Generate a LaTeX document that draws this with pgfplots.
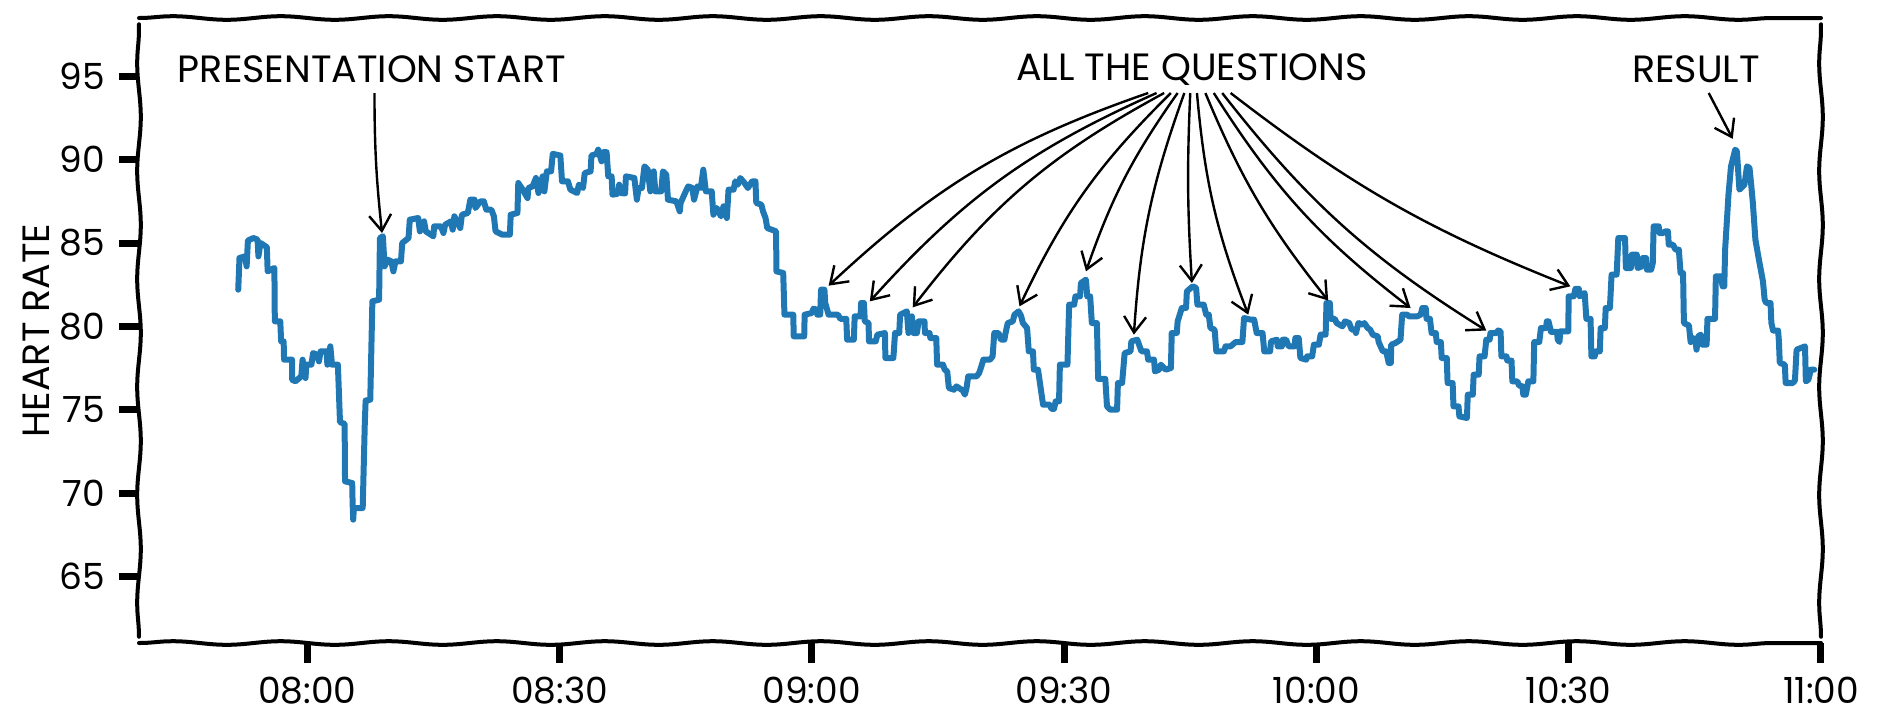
\documentclass[border=0pt]{standalone}
\usepackage{pgfplots}
\pgfplotsset{compat=1.18}
\usepackage{fontspec}
\setmainfont{Poppins}
\usetikzlibrary{arrows.meta,decorations.pathmorphing}
\definecolor{mplblue}{HTML}{1F77B4}
\pgfplotstableread{
x y
471.8 82.2
471.95 84.1
472.6 84.2
472.8 83.6
472.95 85.15
473.6 85.3
474.1 85.2
474.2 84.2
474.45 85.0
475.2 84.75
475.3 83.3
476.1 83.5
476.15 80.3
476.8 80.3
476.9 79.1
477.2 79.1
477.25 78.0
478.2 78.0
478.2 76.8
478.6 76.7
479.3 77.0
479.45 78.0
479.8 76.9
479.9 77.7
480.5 77.7
480.7 78.4
481.15 78.3
481.4 77.9
481.6 78.5
482.3 78.5
482.4 77.7
482.75 78.8
482.95 77.7
483.65 77.7
483.9 74.25
484.45 74.15
484.5 70.7
485.35 70.6
485.4 69.4
485.47 68.4
485.55 69.1
486.6 69.1
486.85 74.2
486.95 75.55
487.5 75.6
487.75 81.5
488.55 81.6
488.65 85.3
489.0 85.4
489.2 83.6
489.55 84.0
490.0 83.9
490.25 83.3
490.5 83.9
491.15 83.9
491.3 85.0
492.05 85.3
492.2 86.4
493.2 86.5
493.4 85.7
493.9 86.3
494.1 85.7
495.0 85.4
495.1 86.0
495.9 86.0
496.2 85.6
496.4 86.1
497.1 86.3
497.3 85.8
497.5 86.6
498.2 85.9
498.4 86.7
499.1 86.8
499.4 87.6
499.9 87.6
500.0 87.1
500.6 87.5
501.0 87.5
501.3 87.0
501.9 87.0
502.2 86.6
502.4 85.7
503.2 85.5
504.1 85.5
504.2 86.7
505.0 86.8
505.1 88.6
505.5 88.3
506.2 87.7
506.3 88.3
506.8 88.4
507.2 88.9
507.5 88.0
508.0 89.0
508.2 88.1
508.5 89.3
509.0 89.3
509.2 90.35
510.1 90.25
510.3 88.7
511.0 88.7
511.3 88.2
512.1 88.0
512.3 88.5
512.8 88.3
513.0 89.2
513.7 89.3
513.8 90.25
514.4 90.35
514.6 90.6
515.0 89.9
515.2 90.45
515.6 90.45
515.8 89.0
516.2 89.0
516.3 87.9
516.9 87.95
517.1 88.5
517.3 88.0
517.8 87.97
517.9 89.0
518.9 88.9
519.2 87.6
519.4 88.3
519.8 88.3
520.1 89.6
520.5 89.4
520.8 88.1
521.2 89.3
521.4 88.1
522.1 88.1
522.3 89.3
522.7 89.1
522.9 87.6
523.9 87.5
524.3 86.9
524.4 87.4
524.9 87.97
525.3 88.4
525.8 88.3
526.0 87.6
526.4 88.4
526.8 88.3
527.1 89.4
527.4 88.1
528.1 88.1
528.3 86.7
528.7 87.1
529.2 86.6
529.5 87.2
529.9 86.5
530.1 88.2
530.7 88.2
530.9 88.7
531.2 88.5
531.5 88.9
532.0 88.6
532.4 88.3
532.9 88.7
533.3 88.7
533.4 87.4
534.0 87.3
534.2 86.9
534.5 86.5
534.7 85.9
535.75 85.7
535.8 83.3
536.6 83.2
536.75 80.7
537.8 80.7
537.85 79.4
539.1 79.4
539.15 80.7
540.0 80.8
540.2 81.06
540.6 81.0
540.65 80.7
541.0 80.7
541.1 82.2
541.5 82.2
541.6 81.4
542.0 80.7
543.1 80.7
543.4 80.45
544.1 80.45
544.2 79.2
545.0 79.2
545.1 80.6
545.8 80.6
545.86 81.4
546.2 81.4
546.3 80.3
546.75 80.2
546.8 79.1
547.6 79.1
547.8 79.5
548.7 79.6
548.75 78.1
549.7 78.1
549.9 79.6
550.4 79.6
550.5 80.7
551.3 80.9
551.5 79.6
551.9 80.6
552.1 79.6
552.5 79.6
552.7 80.3
553.4 80.3
553.45 79.6
554.0 79.6
554.1 79.3
554.8 79.3
554.9 77.7
555.6 77.7
555.8 77.4
556.1 77.3
556.3 76.3
556.9 76.2
557.2 76.4
557.95 76.15
558.2 75.9
558.4 76.3
558.6 77.0
559.6 77.0
559.9 77.2
560.1 77.5
560.4 78.0
561.2 78.0
561.5 78.2
561.7 79.6
562.2 79.6
562.5 79.2
562.9 79.2
563.0 79.5
563.3 80.2
563.9 80.3
564.1 80.7
564.6 80.9
564.9 80.6
565.1 80.2
565.6 79.9
565.8 78.5
566.3 78.5
566.4 77.4
566.9 77.4
567.5 75.3
568.3 75.3
568.5 75.05
568.8 75.05
569.0 75.5
569.4 75.5
569.5 77.7
570.4 77.7
570.6 81.3
571.2 81.3
571.35 81.8
571.9 81.8
572.0 82.6
572.6 82.8
572.75 81.8
573.1 81.8
573.3 80.2
573.9 80.2
574.05 76.85
574.9 76.85
575.1 75.2
575.5 75.0
576.3 75.0
576.4 76.6
576.9 76.6
577.2 78.4
577.9 78.5
578.0 79.1
578.7 79.2
579.2 78.5
579.85 78.5
580.0 78.0
580.7 78.0
580.8 77.3
581.3 77.4
581.5 77.7
582.1 77.4
582.7 77.5
582.8 79.6
583.4 79.6
583.5 80.3
584.0 81.1
584.5 81.1
584.6 82.1
585.3 82.4
585.7 82.3
585.85 81.3
586.6 81.3
586.9 80.7
587.2 80.7
587.4 79.9
587.9 79.8
588.1 78.5
589.0 78.5
589.2 78.8
589.8 78.8
590.4 79.06
591.2 79.06
591.4 80.5
592.2 80.4
592.6 80.4
592.9 79.6
593.6 79.6
593.8 78.5
594.5 78.5
594.6 79.1
595.3 79.2
595.4 78.8
595.9 78.8
596.0 79.2
596.4 79.2
596.7 78.8
597.4 78.8
597.5 79.3
597.9 79.3
598.1 78.1
598.8 78.0
598.9 78.2
599.5 78.2
599.7 78.9
600.3 78.9
600.5 79.5
601.1 79.5
601.2 81.4
601.6 81.4
601.7 80.45
602.2 80.45
602.4 80.2
603.1 80.0
603.4 80.3
603.9 80.2
604.2 79.8
604.6 79.8
604.7 79.6
605.0 80.2
605.5 80.1
605.7 80.2
606.1 79.9
606.4 79.8
606.7 79.5
607.3 79.4
607.4 79.06
607.9 78.5
608.3 78.5
608.6 77.8
608.85 77.8
608.9 78.9
609.4 79.0
609.7 79.1
610.0 79.2
610.2 80.7
610.8 80.7
611.0 80.6
611.7 80.6
612.0 80.6
612.4 80.7
612.6 81.1
613.0 81.1
613.1 80.45
613.5 80.45
613.7 79.6
614.2 79.6
614.3 79.06
614.8 79.06
614.9 78.1
615.5 78.1
615.6 76.6
616.2 76.6
616.3 75.2
616.9 75.2
617.0 74.6
617.9 74.5
618.0 75.9
618.6 75.9
618.7 77.1
619.3 77.1
619.4 78.2
620.0 78.2
620.2 79.2
620.6 79.2
620.7 79.6
621.4 79.6
621.6 79.75
621.9 79.7
622.0 78.2
622.6 78.2
622.7 77.95
623.2 77.95
623.3 76.7
623.9 76.7
624.1 76.45
624.5 76.4
624.6 75.9
624.9 75.9
625.2 76.7
625.8 76.7
625.9 79.06
626.5 79.06
626.7 79.9
627.3 79.9
627.4 80.3
627.6 80.3
627.9 79.67
628.6 79.67
628.7 79.2
628.9 79.06
629.0 79.7
629.95 79.7
630.0 81.8
630.6 81.8
630.8 82.25
631.2 82.25
631.3 81.8
631.9 82.0
632.1 80.45
632.6 80.45
632.7 78.2
633.1 78.2
633.2 78.5
633.7 78.5
633.8 79.9
634.3 79.9
634.4 81.1
634.9 81.1
635.1 83.1
635.7 83.1
635.9 85.3
636.7 85.3
636.8 83.5
637.4 83.5
637.5 84.3
638.1 84.3
638.2 83.5
638.7 83.6
638.8 84.1
639.2 84.1
639.3 83.4
639.8 83.4
640.0 83.8
640.1 86.0
640.7 86.0
640.8 85.6
641.2 85.6
641.5 85.7
641.8 85.7
641.9 84.9
642.4 84.9
642.7 84.6
643.1 84.6
643.3 83.2
643.6 83.2
643.7 80.2
644.3 80.05
644.5 79.06
644.8 79.3
645.1 79.06
645.2 78.6
645.4 79.4
645.7 79.5
645.9 78.9
646.4 78.9
646.5 80.45
647.4 80.45
647.5 83.0
648.1 83.0
648.3 82.4
648.5 82.4
648.6 84.6
649.0 87.9
649.3 89.6
649.8 90.6
650.0 90.5
650.3 88.2
650.9 88.5
651.2 89.6
651.5 89.5
651.7 88.5
651.9 87.4
652.2 85.2
652.6 84.05
653.1 82.7
653.3 81.6
653.5 81.4
654.0 81.4
654.1 80.2
654.3 79.75
654.9 79.75
655.0 79.06
655.1 77.8
655.7 77.7
655.8 76.6
656.65 76.6
656.9 76.75
657.1 78.6
658.1 78.8
658.2 76.7
658.5 76.8
658.8 77.4
659.2 77.4
}\hrdata
\tikzset{xarr/.style={-{Straight Barb[length=4pt,width=5.5pt]}, line width=0.6pt, black},
  wavy/.style={line width=1pt, black, line cap=round, decorate, decoration={snake, amplitude=0.45pt, segment length=27pt}}}
\begin{document}
\begin{tikzpicture}
\begin{axis}[
  scale only axis, width=420.5pt, height=156.25pt,
  xmin=460, xmax=660, ymin=61, ymax=98.5,
  xtick={480,510,540,570,600,630,660},
  xticklabels={08:00,08:30,09:00,09:30,10:00,10:30,11:00},
  ytick={65,70,75,80,85,90,95},
  axis line style={draw=none},
  tick align=outside, major tick length=5pt,
  tick style={line width=1.75pt, black},
  tick pos=left,
  ticklabel style={font=\fontsize{9}{10}\selectfont},
  /pgf/number format/assume math mode=true,
  ylabel={HEART RATE},
  ylabel style={font=\fontsize{9.5}{10}\selectfont, at={(axis description cs:-0.0612,0.5)}, anchor=center},
  clip=false,
]
\addplot[mplblue, line width=1.5pt, line join=round, line cap=round, mark=none] table[x=x,y=y] {\hrdata};
\draw[wavy] (rel axis cs:0,0) -- (rel axis cs:1,0);
\draw[wavy] (rel axis cs:0,1) -- (rel axis cs:1,1);
\draw[wavy] (rel axis cs:0,0.01) -- (rel axis cs:0,0.99);
\draw[wavy] (rel axis cs:1,0.01) -- (rel axis cs:1,0.99);
\node[font=\fontsize{9.5}{10}\selectfont] at (axis cs:487.7,95.4) {PRESENTATION START};
\node[font=\fontsize{9.5}{10}\selectfont] at (axis cs:585.2,95.4) {ALL THE QUESTIONS};
\node[font=\fontsize{9.5}{10}\selectfont] at (axis cs:645.15,95.4) {RESULT};
\draw[xarr] (axis cs:488.0,94.0) to[bend right=3] (axis cs:488.9,85.6);
\draw[xarr] (axis cs:646.65,94.0) -- (axis cs:649.5,91.25);
\draw[xarr] (axis cs:580.0,94.0) to[bend right=12] (axis cs:542.0,82.44);
\draw[xarr] (axis cs:581.0,94.0) to[bend right=12] (axis cs:546.9,81.5);
\draw[xarr] (axis cs:581.9,94.0) to[bend right=12] (axis cs:552.0,81.14);
\draw[xarr] (axis cs:582.7,94.0) to[bend right=10] (axis cs:564.7,81.2);
\draw[xarr] (axis cs:583.5,94.0) to[bend right=8] (axis cs:572.6,83.3);
\draw[xarr] (axis cs:584.3,94.0) to[bend right=8] (axis cs:578.3,79.5);
\draw[xarr] (axis cs:585.0,94.0) to[bend right=3] (axis cs:585.2,82.6);
\draw[xarr] (axis cs:585.8,94.0) to[bend right=8] (axis cs:591.9,80.7);
\draw[xarr] (axis cs:586.8,94.0) to[bend right=8] (axis cs:601.4,81.55);
\draw[xarr] (axis cs:587.8,94.0) to[bend right=10] (axis cs:611.2,81.1);
\draw[xarr] (axis cs:588.8,94.0) to[bend right=10] (axis cs:620.2,79.75);
\draw[xarr] (axis cs:589.8,94.0) to[bend right=8] (axis cs:630.2,82.4);
\end{axis}
\pgfresetboundingbox
\path[use as bounding box] ([xshift=-34.75pt,yshift=-20.25pt]current axis.south west) rectangle ([xshift=14pt,yshift=4.5pt]current axis.north east);
\end{tikzpicture}
\end{document}
